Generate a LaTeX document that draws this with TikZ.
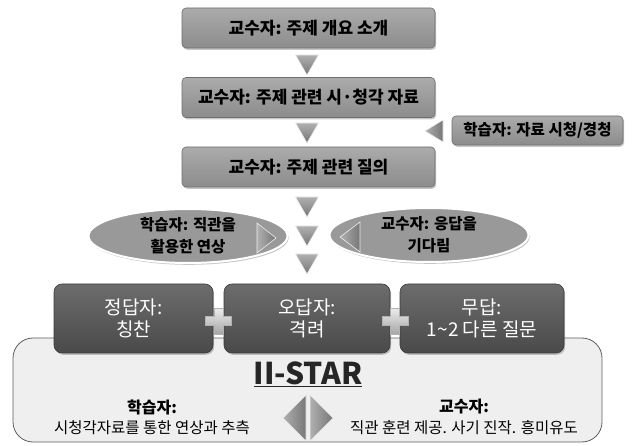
\documentclass[tikz,border=0pt]{standalone}
\usepackage{fontspec}
\setmainfont{Noto Sans CJK KR}
\usetikzlibrary{shapes.geometric,shadows,calc}
\definecolor{boxtop}{HTML}{ABABAB}
\definecolor{boxbot}{HTML}{8C8C8C}
\definecolor{boxline}{HTML}{6E6E6E}
\definecolor{darktop}{HTML}{6C6C6C}
\definecolor{darkbot}{HTML}{4A4A4A}
\definecolor{ellfill}{HTML}{999999}
\definecolor{trtop}{HTML}{B0B0B0}
\definecolor{trbot}{HTML}{767676}
\definecolor{panel}{HTML}{EFEFEF}
\definecolor{panelline}{HTML}{5E5E5E}
\tikzset{
  x=1pt, y=-1pt,
  topbox/.style={rounded corners=4pt, draw=boxline, line width=0.6pt,
    top color=boxtop, bottom color=boxbot,
    drop shadow={opacity=0.45, shadow xshift=1.2pt, shadow yshift=-1.8pt},
    minimum width=253pt, minimum height=40pt, inner sep=0pt,
    font=\fontsize{17}{20}\selectfont\bfseries, text=black},
  sidebox/.style={topbox, minimum width=171pt, minimum height=29pt,
    font=\fontsize{15.5}{18}\selectfont\bfseries},
  darkbox/.style={rounded corners=8pt, draw=darkbot!80!black, line width=0.6pt,
    top color=darktop, bottom color=darkbot,
    drop shadow={opacity=0.45, shadow xshift=1.2pt, shadow yshift=-1.8pt},
    minimum width=160pt, minimum height=69pt, inner sep=0pt, align=center,
    font=\fontsize{19}{22}\selectfont, text=white},
  ellbox/.style={ellipse, fill=ellfill, draw=white, line width=2pt,
    drop shadow={opacity=0.45, shadow xshift=1.2pt, shadow yshift=-1.8pt},
    minimum width=199pt, minimum height=54pt, inner sep=0pt, align=center,
    font=\fontsize{15.5}{22}\selectfont\bfseries, text=black},
  tri/.style={top color=trtop, bottom color=trbot, draw=white!85!gray, line width=0.6pt},
  trih/.style={left color=trtop, right color=trbot, draw=white!85!gray, line width=0.6pt},
  plusc/.style={top color=white!85!gray, bottom color=gray!70, draw=gray!60, line width=0.4pt},
  pics/downtri/.style={code={\path[tri] (-11.5,-10) -- (11.5,-10) -- (0,10) -- cycle;}},
  pics/lefttri/.style args={#1/#2}{code={\path[trih] (#1,-#2) -- (#1,#2) -- (-#1,0) -- cycle;}},
  pics/righttri/.style args={#1/#2}{code={\path[trih] (-#1,-#2) -- (-#1,#2) -- (#1,0) -- cycle;}},
  pics/plussign/.style={code={\path[plusc] (-4.5,-13) -- (4.5,-13) -- (4.5,-4.5) -- (13,-4.5) -- (13,4.5) -- (4.5,4.5) -- (4.5,13) -- (-4.5,13) -- (-4.5,4.5) -- (-13,4.5) -- (-13,-4.5) -- (-4.5,-4.5) -- cycle;}},
  lbl/.style={font=\fontsize{16}{18}\selectfont\bfseries, text=black, inner sep=0pt},
  sub/.style={font=\fontsize{15.5}{18}\selectfont, text=black, inner sep=0pt}
}
\begin{document}
\begin{tikzpicture}
\useasboundingbox (0,0) rectangle (632,446);
% bottom panel
\path[rounded corners=20pt, fill=panel, draw=panelline, line width=0.8pt] (13,338) rectangle (602,442);
% top chain
\node[topbox] (b1) at (308.5,28) {교수자: 주제 개요 소개};
\node[topbox] (b2) at (308.5,97.5) {교수자: 주제 관련 시·청각 자료};
\node[topbox] (b3) at (308.5,167) {교수자: 주제 관련 질의};
\pic at (307,65) {downtri};
\pic at (307,133) {downtri};
\pic at (307,207) {downtri};
\pic at (307,236) {downtri};
\pic at (307,264) {downtri};
% side box
\node[sidebox] (sb) at (537.5,130.5) {학습자: 자료 시청/경청};
\pic at (434,131) {lefttri={9/11}};
% ellipses
\node[ellbox] (e1) at (188,236) {학습자: 직관을\\활용한 연상};
\node[ellbox] (e2) at (429,235) {교수자: 응답을\\기다림};
\pic at (266.5,238) {righttri={9.5/15}};
\pic at (350,237) {lefttri={10/15}};
% dark boxes
\node[darkbox, minimum width=159pt] (d1) at (133.5,318.5) {정답자:\\칭찬};
\node[darkbox, minimum width=166pt] (d2) at (307,318.5) {오답자:\\격려};
\node[darkbox, minimum width=164pt] (d3) at (482,318.5) {무답:\\1\textasciitilde2 다른 질문};
\pic at (218.5,321) {plussign};
\pic at (395,321) {plussign};
% II-STAR
\node[font=\fontsize{30}{32}\selectfont\bfseries, text=black!85, inner sep=0pt] (star) at (308,374) {\underline{II-STAR}};
\node[lbl] (l1) at (152,407) {학습자:};
\node[sub] (l2) at (152,428) {시청각자료를 통한 연상과 추측};
\node[lbl] (r1) at (464,407) {교수자:};
\node[sub] (r2) at (464,428) {직관 훈련 제공. 사기 진작. 흥미유도};
\pic at (294.5,418) {lefttri={11.5/23}};
\pic at (321.5,418) {righttri={11.5/23}};
\end{tikzpicture}
\end{document}
